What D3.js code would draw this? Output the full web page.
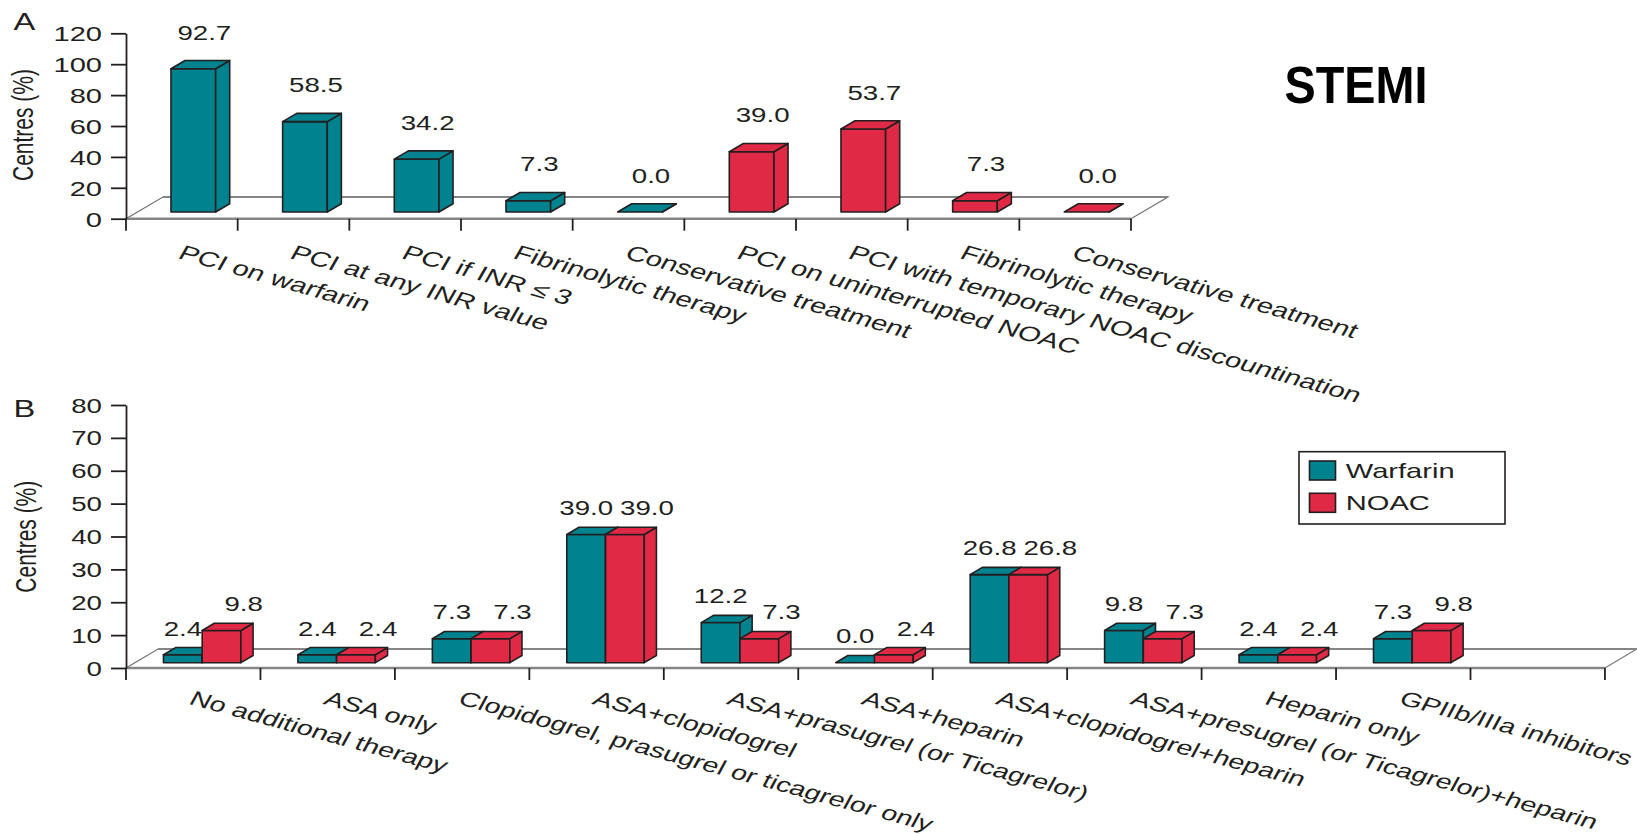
<!DOCTYPE html>
<html>
<head>
<meta charset="utf-8">
<script src="https://cdn.jsdelivr.net/npm/d3@7"></script>
<style>
  body { margin: 0; background: #fff; }
  svg { display: block; font-family: "Liberation Sans", Arial, Helvetica, sans-serif; }
</style>
</head>
<body>
<svg id="chart" width="1637" height="834"></svg>
<script>
// ---- Panel A: STEMI management strategy ----
const catsA = [
  "PCI on warfarin",
  "PCI at any INR value",
  "PCI if INR \u2264 3",
  "Fibrinolytic therapy",
  "Conservative treatment",
  "PCI on uninterrupted NOAC",
  "PCI with temporary NOAC discountination",
  "Fibrinolytic therapy",
  "Conservative treatment"
];
const valuesA = [92.7, 58.5, 34.2, 7.3, 0.0, 39.0, 53.7, 7.3, 0.0];
const seriesA = ["Warfarin", "Warfarin", "Warfarin", "Warfarin", "Warfarin", "NOAC", "NOAC", "NOAC", "NOAC"];
const ticksA = [0, 20, 40, 60, 80, 100, 120];

// ---- Panel B: additional antithrombotic therapy ----
const catsB = [
  "No additional therapy",
  "ASA only",
  "Clopidogrel, prasugrel or ticagrelor only",
  "ASA+clopidogrel",
  "ASA+prasugrel (or Ticagrelor)",
  "ASA+heparin",
  "ASA+clopidogrel+heparin",
  "ASA+presugrel (or Ticagrelor)+heparin",
  "Heparin only",
  "GPIIb/IIIa inhibitors"
];
const warfarinB = [2.4, 2.4, 7.3, 39.0, 12.2, 0.0, 26.8, 9.8, 2.4, 7.3];
const noacB     = [9.8, 2.4, 7.3, 39.0, 7.3, 2.4, 26.8, 7.3, 2.4, 9.8];
const ticksB = [0, 10, 20, 30, 40, 50, 60, 70, 80];

const seriesNames = ["Warfarin", "NOAC"];
const color = d3.scaleOrdinal(seriesNames, ["#00838F", "#E02945"]);

const svg = d3.select("#chart");
const INK = "#231f20";
const K = 1.42;              // horizontal text stretch used throughout the figure
const fmt = d3.format(".1f");

// draws one extruded bar: front face, right side, top
function bar3d(g, x, yBase, w, h, dx, dy, fill) {
  const top = yBase - h;
  const s = { stroke: INK, "stroke-width": 1.6, "stroke-linejoin": "round", fill: fill };
  const apply = sel => { for (const k in s) sel.attr(k, s[k]); return sel; };
  apply(g.append("rect").attr("x", x).attr("y", top).attr("width", w).attr("height", h));
  apply(g.append("polygon").attr("points",
    [[x + w, yBase], [x + w + dx, yBase + dy], [x + w + dx, top + dy], [x + w, top]].join(" ")));
  apply(g.append("polygon").attr("points",
    [[x, top], [x + w, top], [x + w + dx, top + dy], [x + dx, top + dy]].join(" ")));
}

// floor plane, value axis and category ticks of a panel
function frame(g, y, x0, x1, depth, tickXs, ticks, fontSize) {
  const y0 = y(0);
  g.append("polygon")
    .attr("points", [[x0, y0], [x1, y0], [x1 + depth[0], y0 + depth[1]], [x0 + depth[0], y0 + depth[1]]].join(" "))
    .attr("fill", "#fff").attr("stroke", "#6d6d6d").attr("stroke-width", 1.1);
  g.append("line").attr("x1", x0).attr("x2", x1).attr("y1", y0).attr("y2", y0)
    .attr("stroke", "#858585").attr("stroke-width", 2.4);
  g.append("line").attr("x1", x0 + depth[0]).attr("x2", x1 + depth[0])
    .attr("y1", y0 + depth[1]).attr("y2", y0 + depth[1])
    .attr("stroke", "#858585").attr("stroke-width", 1.8);

  g.selectAll("line.ctick").data(tickXs).join("line").attr("class", "ctick")
    .attr("x1", d => d).attr("x2", d => d).attr("y1", y0).attr("y2", y0 + 12)
    .attr("stroke", INK).attr("stroke-width", 1.8);

  const ax = g.append("g").attr("transform", `translate(${x0},0)`)
    .call(d3.axisLeft(y).tickValues(ticks).tickSize(15).tickSizeOuter(0).tickFormat(d3.format("d")));
  ax.select(".domain").attr("stroke", INK).attr("stroke-width", 1.8);
  ax.selectAll(".tick line").attr("stroke", INK).attr("stroke-width", 1.8);
  ax.selectAll(".tick text")
    .attr("x", null).attr("dy", "0.36em")
    .attr("transform", `translate(-24,0) scale(${K},1)`)
    .attr("font-size", fontSize).attr("font-family", null).attr("fill", INK);
  ax.attr("font-family", null).attr("font-size", null);
}

function stretchedText(g, text, x, y, size, extra = "") {
  return g.append("text").text(text)
    .attr("transform", `translate(${x},${y}) scale(${K},1)${extra}`)
    .attr("font-size", size).attr("fill", INK);
}

// ================= Panel A =================
{
  const g = svg.append("g");
  const x0 = 126, x1 = 1131;
  const depth = [37, -21.7];
  const x = d3.scaleBand().domain(d3.range(catsA.length)).range([x0, x1]).paddingInner(0).paddingOuter(0);
  const y = d3.scaleLinear().domain([0, 120]).range([218.7, 33.3]);
  const bounds = d3.range(catsA.length + 1).map(i => x0 + i * x.step());
  frame(g, y, x0, x1, depth, bounds, ticksA, 20.5);

  const f = 0.31, dF = [depth[0] * f, depth[1] * f];          // bar front plane
  const bd = 0.38, dB = [depth[0] * bd, depth[1] * bd];       // bar thickness
  const w = x.step() * 0.40;
  valuesA.forEach((v, i) => {
    const xl = x(i) + (x.step() - w) / 2 + dF[0];
    const yBase = y(0) + dF[1];
    const h = y(0) - y(v);
    bar3d(g, xl, yBase, w, h, dB[0], dB[1], color(seriesA[i]));
    stretchedText(g, fmt(v), xl + w / 2 + dB[0] / 2 + 4, yBase - h + dB[1] - 21, 19.5)
      .attr("text-anchor", "middle");
  });

  catsA.forEach((c, i) => {
    stretchedText(g, c, x(i) + x.step() / 2 + 3, 244, 20.8, " rotate(22)")
      .attr("dy", "0.72em");
  });

  stretchedText(g, "Centres (%)", 33, 125, 21, " rotate(-90)").attr("text-anchor", "middle");
  stretchedText(g, "A", 13.4, 29.5, 23);
  g.append("text").text("STEMI")
    .attr("transform", "translate(1284.6,103.3) scale(0.917,1)")
    .attr("font-size", 51).attr("font-weight", "bold").attr("fill", "#000");
}

// ================= Panel B =================
{
  const g = svg.append("g");
  const x0 = 126, step = 134.45;
  const x1 = x0 + catsB.length * step;
  const floorEnd = x1 + step;                         // one spare slot on the right
  const depth = [32, -19];
  const x = d3.scaleBand().domain(d3.range(catsB.length)).range([x0, x1]);
  const y = d3.scaleLinear().domain([0, 80]).range([668, 405]);
  const bounds = d3.range(catsB.length + 2).map(i => x0 + i * x.step());
  frame(g, y, x0, floorEnd, depth, bounds, ticksB, 19.5);

  const f = 0.28, dF = [depth[0] * f, depth[1] * f];
  const bd = 0.38, dB = [depth[0] * bd, depth[1] * bd];
  const w = x.step() * 0.288;
  catsB.forEach((c, i) => {
    const gx = x(i) + x.step() / 2 - w + dF[0];
    const yBase = y(0) + dF[1];
    [warfarinB[i], noacB[i]].forEach((v, j) => {
      const xl = gx + j * w;
      const h = y(0) - y(v);
      bar3d(g, xl, yBase, w, h, dB[0], dB[1], color(seriesNames[j]));
    });
    [warfarinB[i], noacB[i]].forEach((v, j) => {
      const xl = gx + j * w;
      const h = y(0) - y(v);
      const shift = j === 0 ? -6 : 16;
      stretchedText(g, fmt(v), xl + w / 2 + dB[0] / 2 + shift, yBase - h + dB[1] - 12, 19.5)
        .attr("text-anchor", "middle");
    });
    stretchedText(g, c, x(i) + x.step() / 2 + 2, 690, 20.4, " rotate(21)")
      .attr("dy", "0.72em");
  });

  stretchedText(g, "Centres (%)", 36, 536.7, 21, " rotate(-90)").attr("text-anchor", "middle");
  stretchedText(g, "B", 13.4, 416.5, 23);

  // legend
  const lg = g.append("g");
  lg.append("rect").attr("x", 1299).attr("y", 451.7).attr("width", 206).attr("height", 72.3)
    .attr("fill", "#fff").attr("stroke", INK).attr("stroke-width", 1.6);
  seriesNames.forEach((s, j) => {
    const yy = 461 + j * 32.3;
    lg.append("rect").attr("x", 1309.5).attr("y", yy).attr("width", 26).attr("height", 19)
      .attr("fill", color(s)).attr("stroke", INK).attr("stroke-width", 1.6);
    stretchedText(lg, s, 1345.8, yy + 16.6, 20.5);
  });
}
</script>
</body>
</html>
